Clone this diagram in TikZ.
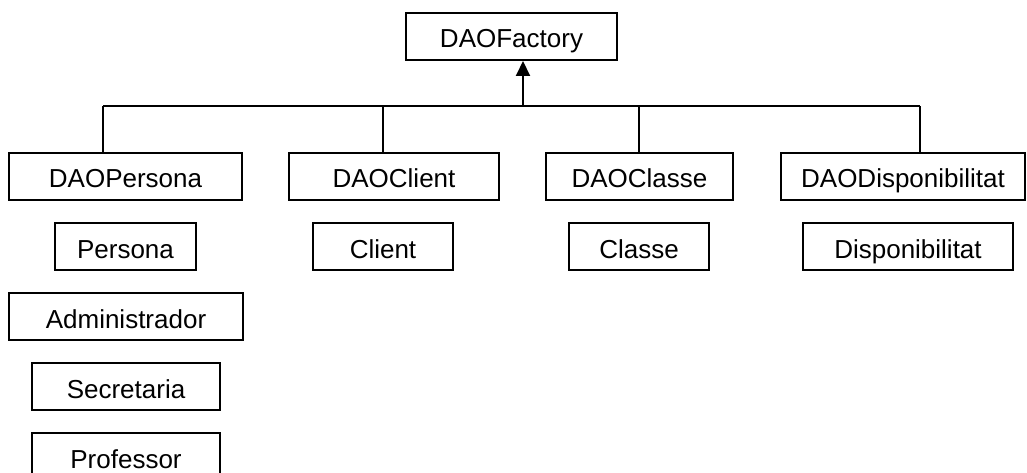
\documentclass[tikz,border=0pt]{standalone}
\usepackage{fontspec}
\setmainfont{Liberation Sans}
\usetikzlibrary{arrows.meta}
\begin{document}
\begin{tikzpicture}[x=1pt,y=-1pt,
  box/.style={draw=black,line width=2pt,minimum height=47pt,inner sep=0pt,
    text height=25pt,text depth=2pt,
    font=\fontsize{26}{30}\selectfont},
  link/.style={draw=black,line width=2pt},
  inherit/.style={link,-{Triangle[width=14pt,length=15pt]}}]
\useasboundingbox[fill=white] (0,0) rectangle (1027,473);
\clip (0,0) rectangle (1027,473);

% factory
\node[box,minimum width=211pt] (fac) at (511.5,36.5) {DAOFactory};

% DAO classes
\node[box,minimum width=233pt] (daoP)  at (125.5,176.5) {DAOPersona};
\node[box,minimum width=210pt] (daoC)  at (394,176.5)   {DAOClient};
\node[box,minimum width=187pt] (daoCl) at (639.5,176.5) {DAOClasse};
\node[box,minimum width=244pt] (daoD)  at (903,176.5)   {DAODisponibilitat};

% entity classes
\node[box,minimum width=141pt] (per)  at (125.5,246.5) {Persona};
\node[box,minimum width=140pt] (cli)  at (383,246.5)   {Client};
\node[box,minimum width=140pt] (cla)  at (639,246.5)   {Classe};
\node[box,minimum width=210pt] (disp) at (908,246.5)   {Disponibilitat};
\node[box,minimum width=234pt] (adm)  at (126,316.5)   {Administrador};
\node[box,minimum width=188pt] (sec)  at (126,386.5)   {Secretaria};
\node[box,minimum width=188pt] (prof) at (126,456.5)   {Professor};

% inheritance tree
\coordinate (j1) at (103,106.5);
\coordinate (j2) at (383,106.5);
\coordinate (j3) at (639,106.5);
\coordinate (j4) at (920,106.5);
\coordinate (ja) at (523,106.5);

\draw[link] (j1) -- (j4);
\draw[link] (j1) -- (j1 |- daoP.north);
\draw[link] (j2) -- (j2 |- daoC.north);
\draw[link] (j3) -- (j3 |- daoCl.north);
\draw[link] (j4) -- (j4 |- daoD.north);
\draw[inherit] (ja) -- (ja |- fac.south);
\end{tikzpicture}
\end{document}
